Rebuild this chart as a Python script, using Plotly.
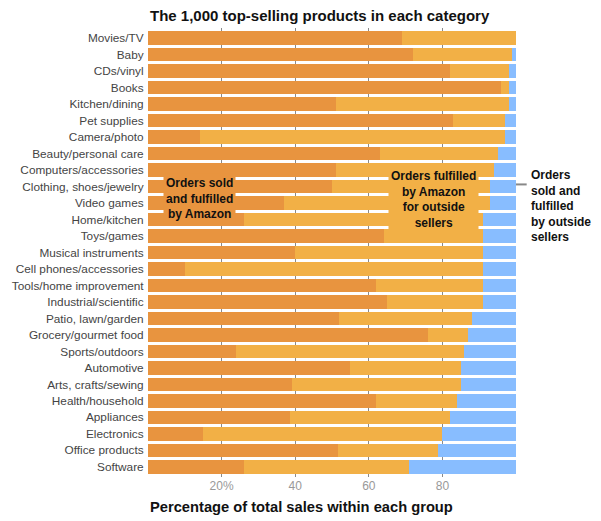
import plotly.graph_objects as go

categories = [
    "Movies/TV", "Baby", "CDs/vinyl", "Books", "Kitchen/dining", "Pet supplies",
    "Camera/photo", "Beauty/personal care", "Computers/accessories",
    "Clothing, shoes/jewelry", "Video games", "Home/kitchen", "Toys/games",
    "Musical instruments", "Cell phones/accessories", "Tools/home improvement",
    "Industrial/scientific", "Patio, lawn/garden", "Grocery/gourmet food",
    "Sports/outdoors", "Automotive", "Arts, crafts/sewing", "Health/household",
    "Appliances", "Electronics", "Office products", "Software",
]
# percent of sales: sold and fulfilled by Amazon
sold_by_amazon = [69, 72, 82, 96, 51, 83, 14, 63, 51, 50, 37, 26, 64, 40, 10,
                  62, 65, 52, 76, 24, 55, 39, 62, 38.6, 15, 51.5, 26]
# fulfilled by Amazon for outside sellers
fba_outside = [31, 27, 16, 2, 47, 14, 83, 32, 43, 43, 56, 65, 27, 51, 81,
               29, 26, 36, 11, 62, 30, 46, 22, 43.4, 65, 27.2, 45]
# sold and fulfilled by outside sellers
outside = [0, 1, 2, 2, 2, 3, 3, 5, 6, 7, 7, 9, 9, 9, 9,
           9, 9, 12, 13, 14, 15, 15, 16, 18, 20, 21.3, 29]
tick_vals = [20, 40, 60, 80]
tick_text = ["20%", "40", "60", "80"]

C_DARK = "#E8943F"
C_LIGHT = "#F2B046"
C_BLUE = "#88BDFF"
FONT = "Liberation Sans"

fig = go.Figure()
for vals, col, name in [(sold_by_amazon, C_DARK, "Orders sold and fulfilled by Amazon"),
                        (fba_outside, C_LIGHT, "Orders fulfilled by Amazon for outside sellers"),
                        (outside, C_BLUE, "Orders sold and fulfilled by outside sellers")]:
    fig.add_trace(go.Bar(
        y=categories, x=vals, orientation="h", name=name,
        marker=dict(color=col, line=dict(width=0)),
        hoverinfo="x+y",
    ))

n = len(categories)
y_lo, y_hi = -0.62, n - 1 + 0.62

fig.update_layout(
    barmode="stack",
    bargap=0.18,
    width=601, height=521,
    margin=dict(l=140, r=93, t=19.5, b=52, autoexpand=False),
    plot_bgcolor="white", paper_bgcolor="white",
    showlegend=False,
    font=dict(family=FONT, size=13, color="#444"),
    xaxis=dict(
        range=[0, 100], tickvals=tick_vals, ticktext=tick_text,
        showgrid=True, gridcolor="#8a8a8a", gridwidth=1,
        zeroline=False, showline=False, ticks="", automargin=False,
        tickfont=dict(size=12, color="#999", family=FONT),
        fixedrange=True,
    ),
    yaxis=dict(
        categoryorder="array", categoryarray=categories,
        range=[y_hi, y_lo], showgrid=False, zeroline=False, showline=False,
        ticks="outside", ticklen=1, tickcolor="rgba(0,0,0,0)", automargin=False,
        tickfont=dict(size=11.8, color="#444", family=FONT),
        fixedrange=True,
    ),
)

fig.add_annotation(
    text="The 1,000 top-selling products in each category",
    xref="paper", yref="paper", x=0, y=1.028, xanchor="left", yanchor="middle",
    showarrow=False, font=dict(family=FONT, size=15, color="#111", weight="bold"),
)
fig.add_annotation(
    text="Percentage of total sales within each group",
    xref="paper", yref="paper", x=0, y=-0.067, xanchor="left", yanchor="middle",
    showarrow=False, font=dict(family=FONT, size=14.7, color="#111", weight="bold"),
)
fig.add_annotation(
    text="Orders sold<br>and fulfilled<br>by Amazon",
    xref="x", yref="y", x=13.9, y=9.7, xanchor="center", yanchor="middle",
    showarrow=False, bgcolor=C_DARK, borderpad=2, align="center",
    font=dict(family=FONT, size=12, color="#111", weight="bold"),
)
fig.add_annotation(
    text="Orders fulfilled<br>by Amazon<br>for outside<br>sellers",
    xref="x", yref="y", x=77.5, y=9.8, xanchor="center", yanchor="middle",
    showarrow=False, bgcolor=C_LIGHT, borderpad=2, align="center",
    font=dict(family=FONT, size=12, color="#111", weight="bold"),
)
fig.add_annotation(
    text="Orders<br>sold and<br>fulfilled<br>by outside<br>sellers",
    xref="paper", yref="y", x=1.035, y=10.18, xanchor="left", yanchor="middle",
    showarrow=False, align="left",
    font=dict(family=FONT, size=12, color="#111", weight="bold"),
)
# leader line from bar end to the right-hand label
lead_idx = 8.87
lead_y = (y_hi - lead_idx) / (y_hi - y_lo)
fig.add_shape(type="line", xref="paper", yref="paper",
              x0=1.0, x1=1.029, y0=lead_y, y1=lead_y,
              line=dict(color="#888", width=2))

fig.write_html("out.html")
